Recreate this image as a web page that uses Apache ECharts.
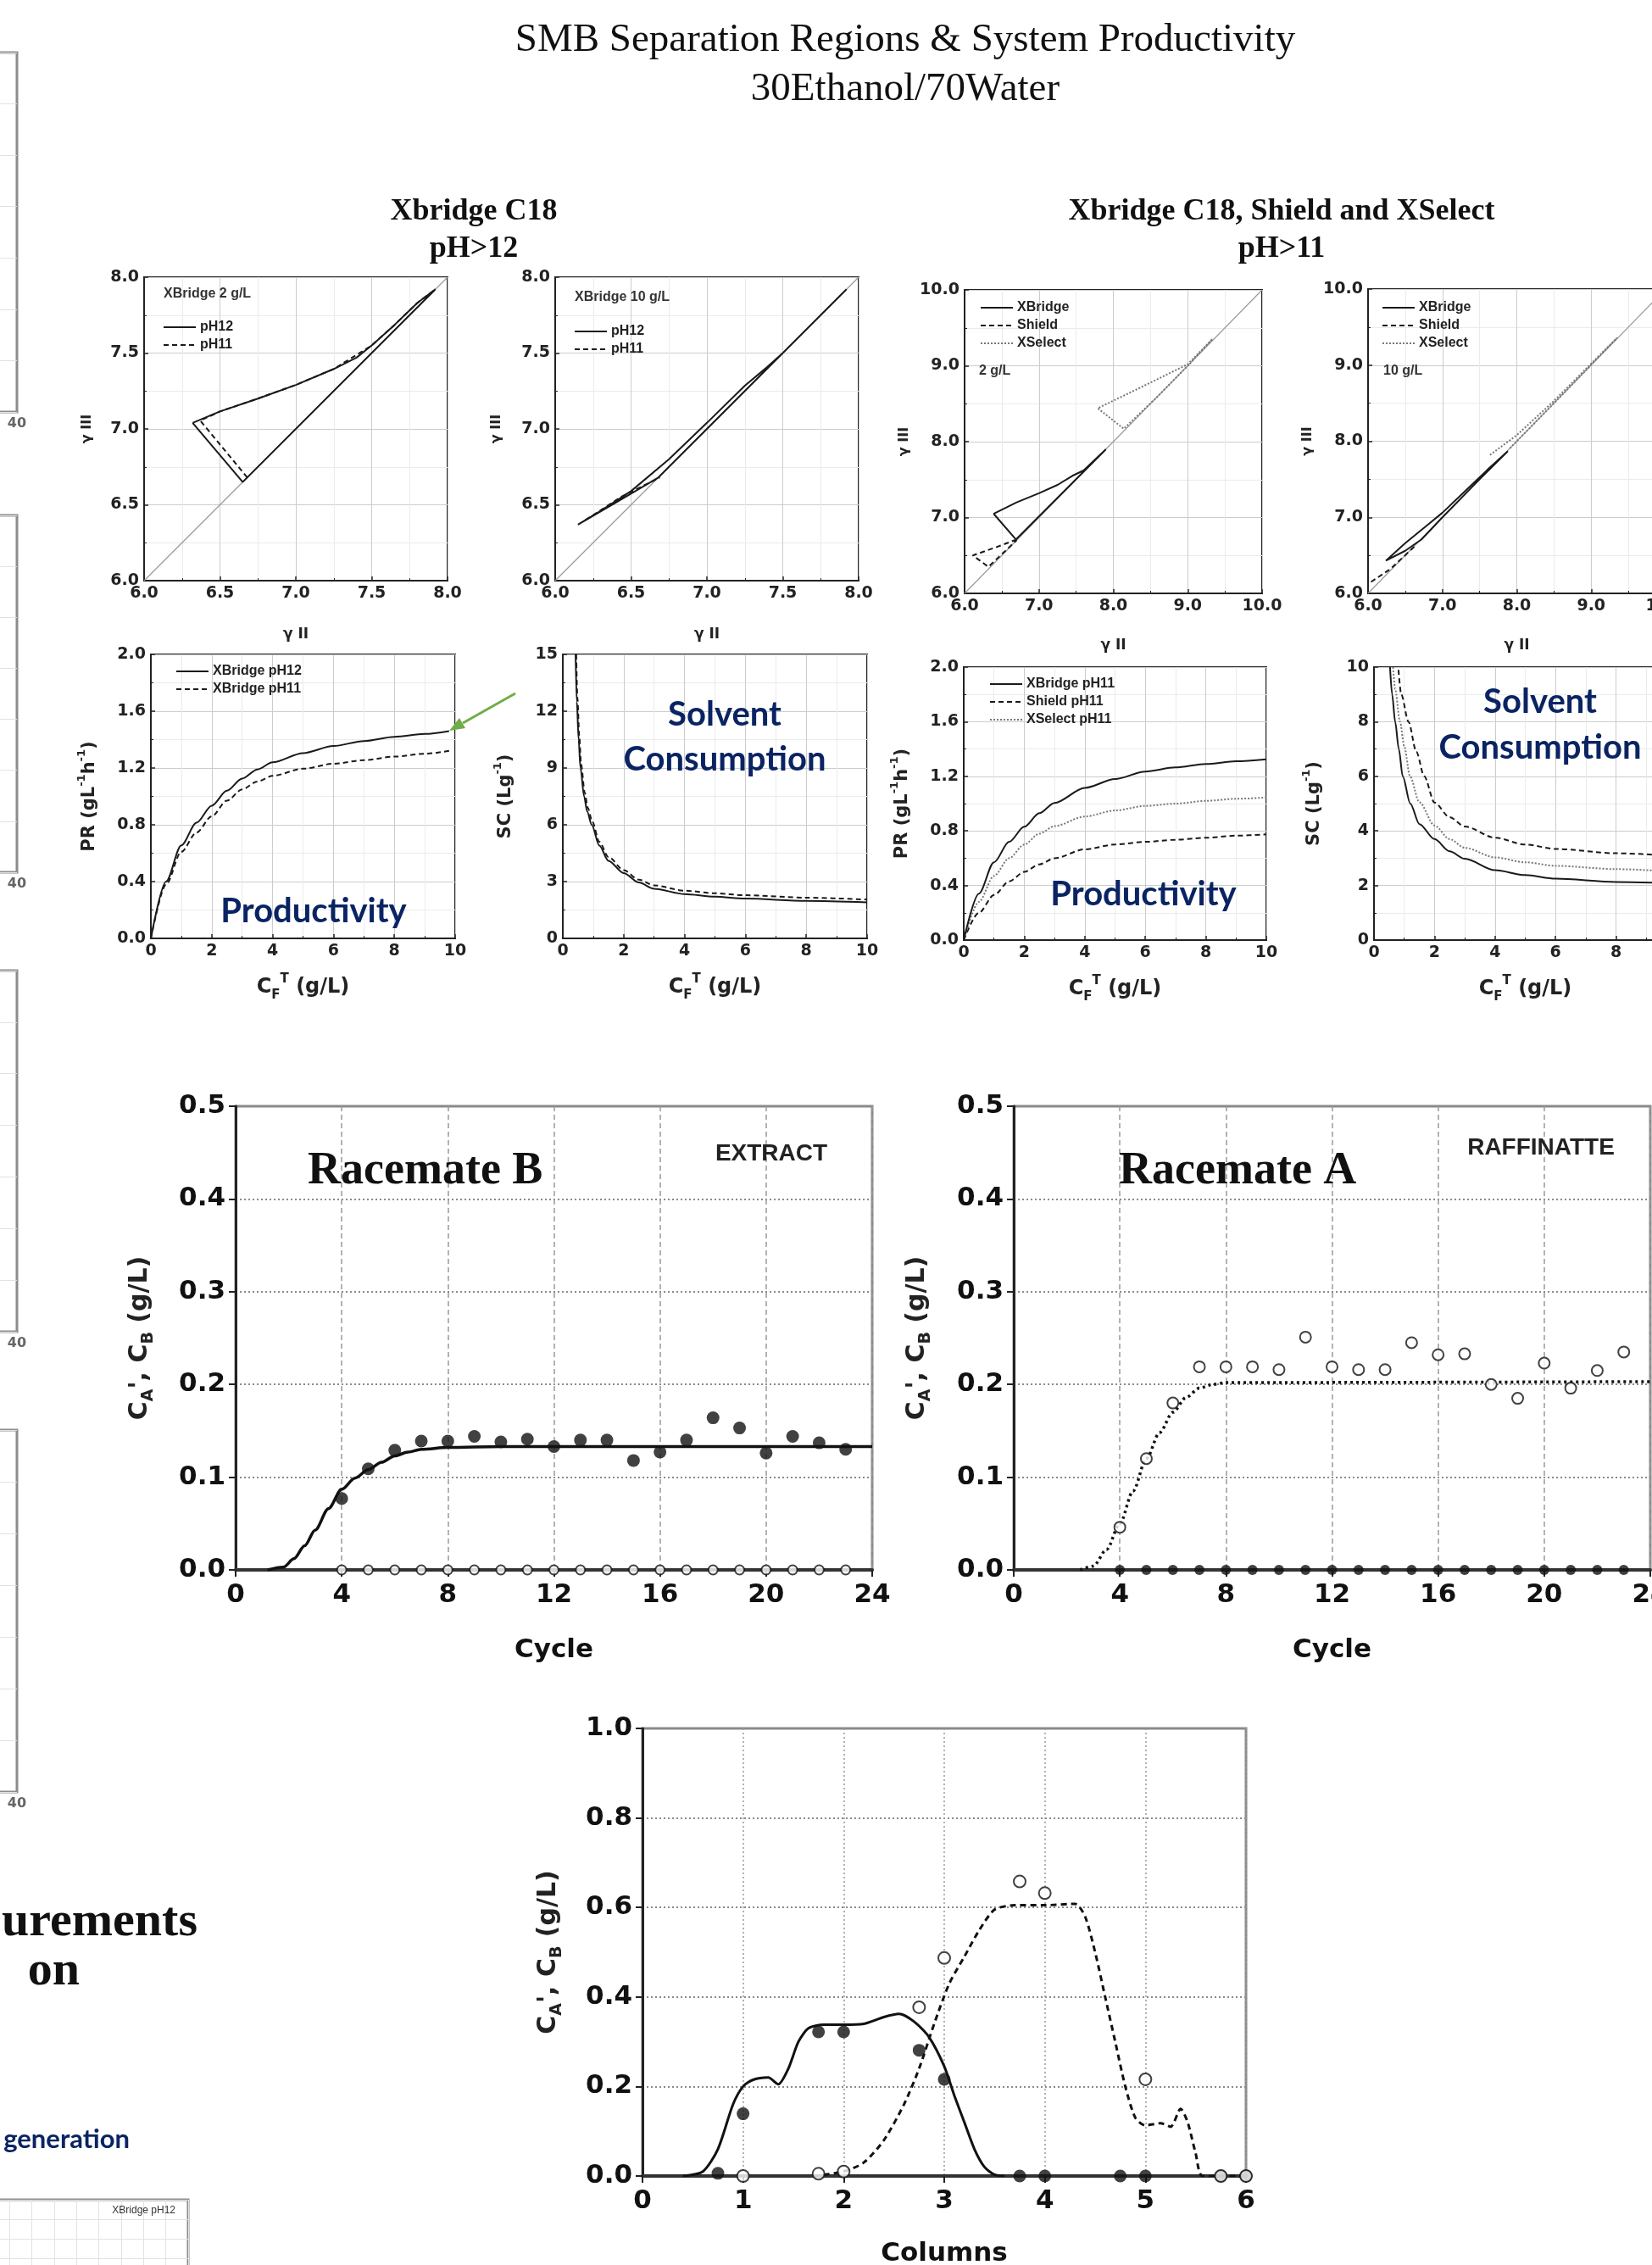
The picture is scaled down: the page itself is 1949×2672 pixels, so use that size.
<!DOCTYPE html>
<html>
<head>
<meta charset="utf-8">
<title>SMB Separation Regions &amp; System Productivity</title>
<script src="https://cdn.jsdelivr.net/npm/echarts/dist/echarts.min.js"></script>
<style>
html, body { margin: 0; padding: 0; background: #fff; }
#main { width: 1949px; height: 2672px; }
</style>
</head>
<body>
<div id="main"></div>
<script>
// ---- separation regions, gamma III vs gamma II
const diag68 = [[6, 6], [8, 8]];
const diag610 = [[6, 6], [10, 10]];
const xb2pH12 = [[6.32, 7.04], [6.65, 6.65], [7.92, 7.92], [7.8, 7.83], [7.65, 7.685], [7.5, 7.55], [7.4, 7.47], [7.25, 7.395], [7.0, 7.29], [6.75, 7.2], [6.5, 7.115], [6.32, 7.04]];
const xb2pH11 = [[6.68, 6.68], [6.37, 7.055], [6.5, 7.115], [6.75, 7.2], [7.0, 7.29], [7.25, 7.395], [7.5, 7.55], [7.65, 7.685], [7.8, 7.83], [7.92, 7.92]];
const xb10pH12 = [[7.92, 7.92], [7.5, 7.5], [7.4, 7.41], [7.25, 7.285], [7.0, 7.04], [6.75, 6.8], [6.5, 6.59], [6.3, 6.46], [6.15, 6.37], [6.4, 6.515], [6.68, 6.68], [7.5, 7.5]];
const xb10pH11 = [[6.2, 6.4], [6.44, 6.555], [6.69, 6.68]];
const c2XBridge = [[6.39, 7.05], [6.69, 6.71], [7.9, 7.9], [7.6, 7.62], [7.45, 7.55], [7.25, 7.43], [7.0, 7.32], [6.7, 7.2], [6.39, 7.05]];
const c2Shield = [[6.7, 6.71], [6.4, 6.6], [6.11, 6.5], [6.32, 6.35], [6.7, 6.7]];
const c2XSelect = [[9.33, 9.35], [9.0, 9.02], [8.4, 8.73], [7.79, 8.44], [8.14, 8.17], [8.6, 8.6], [9.0, 9.0], [9.33, 9.35]];
const c10XBridge = [[7.88, 7.87], [7.6, 7.62], [7.3, 7.34], [7.0, 7.06], [6.8, 6.9], [6.5, 6.66], [6.24, 6.43], [6.5, 6.56], [6.72, 6.71], [7.0, 7.0], [7.5, 7.5], [7.88, 7.87]];
const c10Shield = [[6.04, 6.15], [6.3, 6.32], [6.64, 6.63]];
const c10XSelect = [[7.64, 7.82], [8.0, 8.08], [8.5, 8.53], [9.0, 9.02], [9.35, 9.36], [8.6, 8.6], [7.9, 7.9]];

// ---- productivity / solvent consumption vs CF
const prXB12 = [[0, 0], [0.5, 0.4], [1, 0.655], [1.5, 0.815], [2, 0.935], [2.5, 1.04], [3, 1.125], [3.5, 1.19], [4, 1.24], [5, 1.305], [6, 1.355], [7, 1.39], [8, 1.42], [9, 1.44], [9.8, 1.46]];
const prXB11 = [[0, 0], [0.5, 0.38], [1, 0.61], [1.5, 0.745], [2, 0.86], [2.5, 0.97], [3, 1.05], [3.5, 1.105], [4, 1.145], [5, 1.195], [6, 1.23], [7, 1.255], [8, 1.28], [9, 1.3], [9.9, 1.325]];
const scXB12 = [[0.42, 15], [0.46, 12.5], [0.52, 10.5], [0.58, 9], [0.7, 7.5], [0.8, 6.7], [0.95, 6.0], [1.2, 4.9], [1.5, 4.1], [2, 3.45], [2.5, 2.95], [3, 2.62], [4, 2.34], [5, 2.2], [6, 2.1], [8, 1.98], [10, 1.9]];
const scXB11 = [[0.44, 15], [0.48, 12.7], [0.54, 10.7], [0.6, 9.2], [0.72, 7.7], [0.82, 6.9], [0.97, 6.15], [1.2, 5.1], [1.5, 4.3], [2, 3.6], [2.5, 3.1], [3, 2.8], [4, 2.52], [5, 2.38], [6, 2.28], [8, 2.15], [10, 2.05]];
const prXBridge11 = [[0, 0], [0.5, 0.34], [1, 0.57], [1.5, 0.72], [2, 0.83], [2.5, 0.93], [3, 1.005], [4, 1.115], [5, 1.18], [6, 1.235], [7, 1.265], [8, 1.29], [9, 1.31], [10, 1.325]];
const prXSelect11 = [[0, 0], [0.5, 0.28], [1, 0.47], [1.5, 0.6], [2, 0.7], [2.5, 0.78], [3, 0.835], [4, 0.905], [5, 0.95], [6, 0.983], [7, 1.0], [8, 1.02], [9, 1.035], [10, 1.045]];
const prShield11 = [[0, 0], [0.5, 0.2], [1, 0.33], [1.5, 0.43], [2, 0.5], [2.5, 0.555], [3, 0.6], [4, 0.665], [5, 0.7], [6, 0.72], [7, 0.735], [8, 0.75], [9, 0.765], [10, 0.775]];
const scXBridge11 = [[0.53, 10], [0.6, 9], [0.7, 8], [0.82, 7], [0.95, 6], [1.2, 5], [1.5, 4.25], [2, 3.7], [2.5, 3.25], [3, 2.98], [4, 2.56], [5, 2.38], [6, 2.25], [8, 2.13], [10, 2.07]];
const scXSelect11 = [[0.63, 10], [0.7, 9.2], [0.86, 8], [1.0, 7.1], [1.19, 6], [1.5, 5.05], [2, 4.2], [2.5, 3.7], [3, 3.38], [4, 3.03], [5, 2.85], [6, 2.72], [8, 2.6], [10, 2.5]];
const scShield11 = [[0.81, 9.9], [0.9, 9], [1.14, 8], [1.4, 6.9], [1.66, 6], [2, 5.04], [2.5, 4.5], [3, 4.16], [4, 3.75], [5, 3.5], [6, 3.34], [8, 3.18], [10, 3.08]];

// ---- SMB run, concentration vs cycle
const cycles = [4, 5, 6, 7, 8, 9, 10, 11, 12, 13, 14, 15, 16, 17, 18, 19, 20, 21, 22, 23];
const extractB = [0.077, 0.109, 0.129, 0.139, 0.139, 0.144, 0.138, 0.141, 0.133, 0.14, 0.14, 0.118, 0.127, 0.14, 0.164, 0.153, 0.126, 0.144, 0.137, 0.13];
const extractA = [0, 0, 0, 0, 0, 0, 0, 0, 0, 0, 0, 0, 0, 0, 0, 0, 0, 0, 0, 0];
const raffA = [0.046, 0.12, 0.18, 0.219, 0.219, 0.219, 0.216, 0.251, 0.219, 0.216, 0.216, 0.245, 0.232, 0.233, 0.2, 0.185, 0.223, 0.196, 0.215, 0.235];
const raffB = [0, 0, 0, 0, 0, 0, 0, 0, 0, 0, 0, 0, 0, 0, 0, 0, 0, 0, 0, 0];
const extractFit = [[1.2, 0], [1.8, 0.003], [2.2, 0.012], [2.6, 0.026], [3, 0.043], [3.5, 0.066], [4, 0.087], [4.5, 0.099], [5, 0.108], [5.5, 0.116], [6, 0.123], [6.5, 0.127], [7, 0.13], [8, 0.132], [10, 0.133], [24, 0.133]];
const raffFit = [[2.5, 0], [3, 0.004], [3.5, 0.022], [4, 0.05], [4.5, 0.085], [5, 0.12], [5.5, 0.148], [6, 0.17], [6.5, 0.186], [7, 0.196], [7.5, 0.2], [8, 0.202], [24, 0.203]];

// ---- internal profile vs columns
const colFilled = [[0.75, 0.006], [1, 0.139], [1.75, 0.322], [2, 0.322], [2.75, 0.281], [3, 0.216], [3.75, 0], [4, 0], [4.75, 0], [5, 0], [5.75, 0], [6, 0]];
const colOpen = [[1, 0], [1.75, 0.005], [2, 0.01], [2.75, 0.377], [3, 0.487], [3.75, 0.658], [4, 0.632], [5, 0.216], [5.75, 0], [6, 0]];
const colBFit = [[0.4, 0], [0.6, 0.01], [0.75, 0.06], [0.9, 0.16], [1.0, 0.2], [1.1, 0.215], [1.25, 0.22], [1.35, 0.205], [1.45, 0.24], [1.55, 0.3], [1.65, 0.33], [1.8, 0.338], [2.0, 0.338], [2.2, 0.34], [2.4, 0.355], [2.55, 0.362], [2.7, 0.345], [2.85, 0.31], [3.0, 0.245], [3.1, 0.18], [3.2, 0.12], [3.3, 0.06], [3.4, 0.02], [3.5, 0.003], [3.6, 0]];
const colAFit = [[1.7, 0], [2.0, 0.01], [2.2, 0.03], [2.4, 0.08], [2.6, 0.16], [2.75, 0.24], [2.9, 0.34], [3.05, 0.43], [3.2, 0.49], [3.35, 0.55], [3.5, 0.595], [3.7, 0.605], [4.0, 0.605], [4.3, 0.608], [4.4, 0.58], [4.5, 0.5], [4.6, 0.4], [4.7, 0.3], [4.8, 0.2], [4.9, 0.13], [5.0, 0.113], [5.15, 0.118], [5.25, 0.11], [5.35, 0.15], [5.42, 0.12], [5.5, 0.05], [5.57, 0], [6, 0]];

const NAVY = '#0a2463';
const SOLID = { color: '#1a1a1a', width: 2, type: 'solid' };
const DASH = { color: '#1a1a1a', width: 2, type: [6, 4] };
const DOT = { color: '#777777', width: 2, type: [2, 2] };
const DIAG = { color: '#9a9a9a', width: 1.2, type: 'solid' };

const grids = [], xAxes = [], yAxes = [], series = [], legends = [], texts = [];

function nameRich(size) {
    const sub = Math.round(size * 0.62);
    const base = { fontFamily: 'DejaVu Sans', fontWeight: 'bold', color: '#222' };
    return {
        b: Object.assign({ fontSize: size, lineHeight: size + 10 }, base),
        s: Object.assign({ fontSize: sub, lineHeight: sub + 2, verticalAlign: 'bottom' }, base),
        t: Object.assign({ fontSize: sub, lineHeight: sub + 2, verticalAlign: 'top' }, base)
    };
}

function smallAxis(gi, r, name, gap, size) {
    const ax = {
        type: 'value', gridIndex: gi, min: r[0], max: r[1], interval: r[2],
        axisLine: { show: true, onZero: false, lineStyle: { color: '#222', width: 2 } },
        axisTick: { show: true, inside: true, length: 5, lineStyle: { color: '#222', width: 1.5 } },
        minorTick: { show: true, splitNumber: 2, length: 3, lineStyle: { color: '#222', width: 1 } },
        splitLine: { show: true, lineStyle: { color: '#cccccc', width: 1 } },
        minorSplitLine: { show: true, lineStyle: { color: '#ebebeb', width: 1 } },
        axisLabel: { fontFamily: 'DejaVu Sans', fontWeight: 'bold', fontSize: 19, color: '#222', margin: 6, showMinLabel: true, showMaxLabel: true },
        name: name, nameLocation: 'middle', nameGap: gap,
        nameTextStyle: { fontFamily: 'DejaVu Sans', fontWeight: 'bold', fontSize: size, color: '#222', rich: nameRich(size) }
    };
    if (r[3] !== undefined) ax.axisLabel.formatter = v => v.toFixed(r[3]);
    return ax;
}

function panel(box, xr, yr, xName, xGap, xSize, yName, yGap, ySize) {
    const gi = grids.length;
    grids.push(Object.assign({ show: true, borderColor: '#222', borderWidth: 2, containLabel: false, outerBoundsMode: 'none' }, box));
    xAxes.push(smallAxis(gi, xr, xName, xGap, xSize));
    yAxes.push(smallAxis(gi, yr, yName, yGap, ySize));
    return gi;
}

function bigPanel(box, xr, yr, xName, xGap, yName, yGap, xSplitType) {
    const gi = grids.length;
    grids.push(Object.assign({ show: true, borderColor: '#8a8a8a', borderWidth: 3, containLabel: false, outerBoundsMode: 'none' }, box));
    const lbl = { fontFamily: 'DejaVu Sans', fontWeight: 'bold', fontSize: 31, color: '#111', showMinLabel: true, showMaxLabel: true };
    const nts = { fontFamily: 'DejaVu Sans', fontWeight: 'bold', fontSize: 31, color: '#111', rich: nameRich(30) };
    xAxes.push({
        type: 'value', gridIndex: gi, min: xr[0], max: xr[1], interval: xr[2],
        axisLine: { show: true, onZero: false, lineStyle: { color: '#333', width: 4 } },
        axisTick: { show: true, length: 8, lineStyle: { color: '#222', width: 2 } },
        splitLine: { show: true, lineStyle: { color: '#999', width: 1.5, type: xSplitType } },
        axisLabel: Object.assign({ margin: 14 }, lbl),
        name: xName, nameLocation: 'middle', nameGap: xGap, nameTextStyle: nts
    });
    yAxes.push({
        type: 'value', gridIndex: gi, min: yr[0], max: yr[1], interval: yr[2],
        axisLine: { show: true, onZero: false, lineStyle: { color: '#222', width: 3 } },
        axisTick: { show: true, length: 8, lineStyle: { color: '#222', width: 2 } },
        splitLine: { show: true, lineStyle: { color: '#8a8a8a', width: 2, type: [2, 3] } },
        axisLabel: Object.assign({ margin: 12, formatter: v => v.toFixed(1) }, lbl),
        name: yName, nameLocation: 'middle', nameGap: yGap, nameTextStyle: nts
    });
    return gi;
}

function fragment(box, xMax, yMax, label) {
    const gi = grids.length;
    grids.push(Object.assign({ show: true, borderColor: '#8c8c8c', borderWidth: 3, containLabel: false, outerBoundsMode: 'none' }, box));
    xAxes.push({
        type: 'value', gridIndex: gi, min: 0, max: xMax, interval: label ? xMax : 1,
        axisLine: { show: false }, axisTick: { show: false },
        splitLine: { show: !label, lineStyle: { color: '#e2e2e2' } },
        axisLabel: { show: !!label, fontFamily: 'DejaVu Sans', fontWeight: 'bold', fontSize: 16, color: '#666', margin: 6 }
    });
    yAxes.push({
        type: 'value', gridIndex: gi, min: 0, max: yMax, interval: 1,
        axisLine: { show: false }, axisTick: { show: false }, axisLabel: { show: false },
        splitLine: { show: true, lineStyle: { color: '#e2e2e2' } }
    });
}

function line(gi, name, data, style, extra) {
    series.push(Object.assign({
        type: 'line', name: name, xAxisIndex: gi, yAxisIndex: gi, data: data,
        symbol: 'none', lineStyle: style, itemStyle: { color: style.color }, silent: true
    }, extra || {}));
}

function dots(gi, name, data, size, open) {
    series.push({
        type: 'scatter', name: name, xAxisIndex: gi, yAxisIndex: gi, data: data, clip: false,
        symbol: 'circle', symbolSize: size, silent: true, z: 4,
        itemStyle: open ? { color: '#fff', borderColor: '#111', borderWidth: 2 } : { color: '#111' }
    });
}

// legend icons: the line only, no marker in the middle
const noMarker = { color: 'rgba(0,0,0,0)', borderColor: 'rgba(0,0,0,0)', borderWidth: 0 };
function legendAt(left, top, items) {
    legends.push({
        left: left, top: top, orient: 'vertical', padding: 0, itemGap: 5, itemWidth: 38, itemHeight: 12,
        selectedMode: false,
        textStyle: { fontFamily: 'Liberation Sans', fontWeight: 'bold', fontSize: 16, color: '#222' },
        data: items.map(it => ({ name: it[0], lineStyle: it[1], itemStyle: noMarker }))
    });
}

function text(x, y, str, font, align, color) {
    texts.push({
        type: 'text', x: x, y: y, z: 50, silent: true,
        style: Object.assign({ text: str, fill: color || '#111', align: align || 'center', textAlign: align || 'center', verticalAlign: 'middle', textVerticalAlign: 'middle' }, font)
    });
}

const cfName = '{b|C}{s|F}{t|T}{b| (g/L)}';
const prName = '{b|PR (gL}{t|-1}{b|h}{t|-1}{b|)}';
const scName = '{b|SC (Lg}{t|-1}{b|)}';
const concName = '{b|C}{s|A}{b|\', C}{s|B}{b| (g/L)}';

// ---- row 1: separation regions
const r68 = [6, 8, 0.5, 1], r610 = [6, 10, 1, 1];
const g1 = panel({ left: 170, top: 327, width: 358, height: 358 }, r68, r68, 'γ II', 55, 17, 'γ III', 59, 16);
const g2 = panel({ left: 655, top: 327, width: 358, height: 358 }, r68, r68, 'γ II', 55, 17, 'γ III', 61, 16);
const g3 = panel({ left: 1138, top: 342, width: 351, height: 358 }, r610, r610, 'γ II', 53, 17, 'γ III', 63, 16);
const g4 = panel({ left: 1614, top: 341, width: 351, height: 359 }, r610, r610, 'γ II', 53, 17, 'γ III', 63, 16);

line(g1, 'diag', diag68, DIAG);
line(g1, 'pH11', xb2pH11, DASH);
line(g1, 'pH12', xb2pH12, SOLID);
line(g2, 'diag', diag68, DIAG);
line(g2, 'pH11', xb10pH11, DASH);
line(g2, 'pH12', xb10pH12, SOLID);
line(g3, 'diag', diag610, DIAG);
line(g3, 'XSelect', c2XSelect, DOT);
line(g3, 'Shield', c2Shield, DASH);
line(g3, 'XBridge', c2XBridge, SOLID);
line(g4, 'diag', diag610, DIAG);
line(g4, 'XSelect', c10XSelect, DOT);
line(g4, 'Shield', c10Shield, DASH);
line(g4, 'XBridge', c10XBridge, SOLID);

legendAt(192, 378, [['pH12', SOLID], ['pH11', DASH]]);
legendAt(677, 383, [['pH12', SOLID], ['pH11', DASH]]);
legendAt(1156, 355, [['XBridge', SOLID], ['Shield', DASH], ['XSelect', DOT]]);
legendAt(1630, 355, [['XBridge', SOLID], ['Shield', DASH], ['XSelect', DOT]]);

// ---- row 2: productivity and solvent consumption
const rCF = [0, 10, 2], rPR = [0, 2, 0.4, 1];
const g5 = panel({ left: 178, top: 772, width: 359, height: 335 }, rCF, rPR, cfName, 41, 24, prName, 57, 21);
const g6 = panel({ left: 664, top: 772, width: 359, height: 335 }, rCF, [0, 15, 3], cfName, 41, 24, scName, 52, 21);
const g7 = panel({ left: 1137, top: 787, width: 357, height: 322 }, rCF, rPR, cfName, 41, 24, prName, 57, 21);
const g8 = panel({ left: 1621, top: 787, width: 357, height: 322 }, rCF, [0, 10, 2], cfName, 41, 24, scName, 55, 21);

const smooth = { smooth: 0.3, smoothMonotone: 'x' };
line(g5, 'XBridge pH11', prXB11, DASH, smooth);
line(g5, 'XBridge pH12', prXB12, SOLID, smooth);
line(g6, 'SC XBridge pH11', scXB11, DASH, smooth);
line(g6, 'SC XBridge pH12', scXB12, SOLID, smooth);
line(g7, 'Shield pH11', prShield11, DASH, smooth);
line(g7, 'XSelect pH11', prXSelect11, DOT, smooth);
line(g7, 'XBridge pH11', prXBridge11, SOLID, smooth);
line(g8, 'SC Shield pH11', scShield11, DASH, smooth);
line(g8, 'SC XSelect pH11', scXSelect11, DOT, smooth);
line(g8, 'SC XBridge pH11', scXBridge11, SOLID, smooth);

legendAt(207, 784, [['XBridge pH12', SOLID], ['XBridge pH11', DASH]]);
legendAt(1167, 799, [['XBridge pH11', SOLID], ['Shield pH11', DASH], ['XSelect pH11', DOT]]);

// ---- row 3: SMB extract / raffinate
const rCyc = [0, 24, 4], rConc = [0, 0.5, 0.1];
const g9 = bigPanel({ left: 278, top: 1305, width: 751, height: 547 }, rCyc, rConc, 'Cycle', 79, concName, 93, [6, 4]);
const g10 = bigPanel({ left: 1196, top: 1305, width: 751, height: 547 }, rCyc, rConc, 'Cycle', 79, concName, 94, [6, 4]);
line(g9, 'Extract fit', extractFit, { color: '#111', width: 3.5, type: 'solid' }, smooth);
dots(g9, 'Extract A', cycles.map((c, i) => [c, extractA[i]]), 11, true);
dots(g9, 'Extract B', cycles.map((c, i) => [c, extractB[i]]), 15, false);
line(g10, 'Raffinate fit', raffFit, { color: '#111', width: 3.5, type: [3, 4] }, smooth);
dots(g10, 'Raffinate B', cycles.map((c, i) => [c, raffB[i]]), 12, false);
dots(g10, 'Raffinate A', cycles.map((c, i) => [c, raffA[i]]), 13, true);

// ---- row 4: column profile
const g11 = bigPanel({ left: 758, top: 2039, width: 712, height: 528 }, [0, 6, 1], [0, 1, 0.2], 'Columns', 76, concName, 91, [2, 3]);
line(g11, 'Profile B', colBFit, { color: '#111', width: 3, type: 'solid' }, { smooth: 0.25 });
line(g11, 'Profile A', colAFit, { color: '#111', width: 3, type: [7, 5] }, { smooth: 0.25 });
dots(g11, 'Column B', colFilled, 15, false);
dots(g11, 'Column A', colOpen, 14, true);

// ---- cut-off neighbours at the left edge
fragment({ left: -400, top: 62, width: 420, height: 424 }, 40, 7, true);
fragment({ left: -400, top: 608, width: 420, height: 421 }, 40, 7, true);
fragment({ left: -400, top: 1145, width: 420, height: 426 }, 40, 7, true);
fragment({ left: -400, top: 1687, width: 420, height: 427 }, 40, 7, true);
fragment({ left: -200, top: 2595, width: 422, height: 230 }, 16, 10, false);

// ---- free text
const serif = (size, weight) => ({ fontFamily: 'Liberation Serif', fontSize: size, fontWeight: weight || 'normal' });
const sans = (size) => ({ fontFamily: 'Liberation Sans', fontSize: size, fontWeight: 'bold' });
const lato = (size) => ({ fontFamily: 'Lato', fontSize: size, fontWeight: 'bold' });

text(1068, 48, 'SMB Separation Regions & System Productivity', serif(47));
text(1068, 106, '30Ethanol/70Water', serif(47));
text(559, 250, 'Xbridge C18', serif(36, 'bold'));
text(559, 294, 'pH>12', serif(36, 'bold'));
text(1512, 250, 'Xbridge C18, Shield and XSelect', serif(36, 'bold'));
text(1512, 294, 'pH>11', serif(36, 'bold'));
text(193, 347, 'XBridge 2 g/L', sans(16), 'left', '#333');
text(678, 351, 'XBridge 10 g/L', sans(16), 'left', '#333');
text(1155, 438, '2 g/L', sans(16), 'left', '#333');
text(1632, 438, '10 g/L', sans(16), 'left', '#333');
text(370, 1075, 'Productivity', lato(40), 'center', NAVY);
text(1349, 1055, 'Productivity', lato(40), 'center', NAVY);
text(855, 843, 'Solvent', lato(40), 'center', NAVY);
text(855, 896, 'Consumption', lato(40), 'center', NAVY);
text(1817, 828, 'Solvent', lato(40), 'center', NAVY);
text(1817, 882, 'Consumption', lato(40), 'center', NAVY);
text(363, 1382, 'Racemate B', serif(54, 'bold'), 'left');
text(910, 1361, 'EXTRACT', sans(28), 'center', '#222');
text(1320, 1382, 'Racemate A', serif(54, 'bold'), 'left');
text(1818, 1354, 'RAFFINATTE', sans(28), 'center', '#222');
text(233, 2268, 'urements', serif(58, 'bold'), 'right');
text(94, 2326, 'on', serif(58, 'bold'), 'right');
text(153, 2524, 'generation', lato(31), 'right', NAVY);
text(207, 2608, 'XBridge pH12', { fontFamily: 'Liberation Sans', fontSize: 12 }, 'right', '#333');

// green pointer onto the pH12 productivity curve
texts.push({ type: 'line', z: 50, silent: true, shape: { x1: 608, y1: 818, x2: 546, y2: 853 }, style: { stroke: '#70ad47', lineWidth: 3 } });
texts.push({ type: 'polygon', z: 50, silent: true, shape: { points: [[530, 862], [549, 859], [542, 847]] }, style: { fill: '#70ad47' } });

const chart = echarts.init(document.getElementById('main'), null, { renderer: 'canvas' });
chart.setOption({
    animation: false,
    backgroundColor: '#ffffff',
    textStyle: { fontFamily: 'Liberation Sans' },
    grid: grids,
    xAxis: xAxes,
    yAxis: yAxes,
    legend: legends,
    series: series,
    graphic: { elements: texts }
});
</script>
</body>
</html>
